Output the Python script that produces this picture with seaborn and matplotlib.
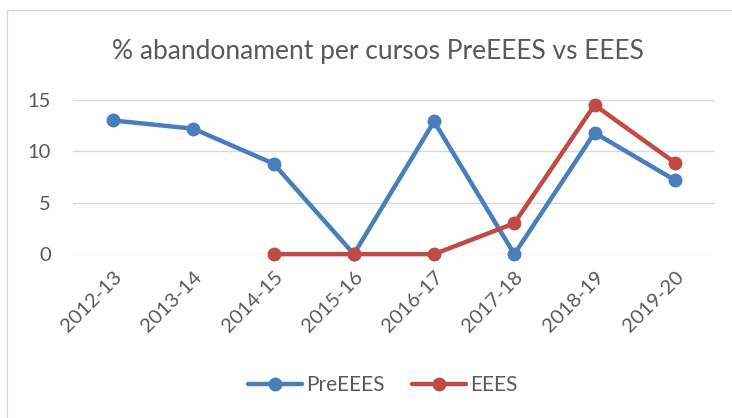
import numpy as np
import pandas as pd
import matplotlib
matplotlib.use("Agg")
import matplotlib.pyplot as plt
import seaborn as sns
from matplotlib.lines import Line2D
from matplotlib.patches import Rectangle

# course years and dropout %
cursos = ["2012-13", "2013-14", "2014-15", "2015-16", "2016-17", "2017-18", "2018-19", "2019-20"]
pre_eees = [13.0, 12.2, 8.8, 0.0, 12.9, 0.0, 11.8, 7.2]
eees = [np.nan, np.nan, 0.0, 0.0, 0.0, 3.0, 14.5, 8.9]

df = pd.DataFrame({
    "curs": cursos * 2,
    "pct": pre_eees + eees,
    "serie": ["PreEEES"] * len(cursos) + ["EEES"] * len(cursos),
})
df["x"] = df["curs"].map({c: i for i, c in enumerate(cursos)})

blue = "#4A7EBB"
red = "#BE4B48"
grey = "#595959"

sns.set_style("white")
plt.rcParams["font.family"] = ["Lato", "DejaVu Sans"]

fig = plt.figure(figsize=(7.32, 4.18), dpi=100)
ax = fig.add_axes([0.0997, 0.392, 0.877, 0.369])

sns.lineplot(data=df.dropna(), x="x", y="pct", hue="serie", units="serie", estimator=None,
             palette={"PreEEES": blue, "EEES": red}, hue_order=["PreEEES", "EEES"],
             marker="o", markersize=10, markeredgewidth=0, linewidth=3.2,
             legend=False, ax=ax, sort=False)

ax.set_xlim(-0.5, len(cursos) - 0.5)
ax.set_ylim(0, 15)
ax.set_yticks([0, 5, 10, 15])
ax.set_xticks(range(len(cursos)))
ax.set_xticklabels(cursos, rotation=45, ha="right", rotation_mode="anchor")
ax.tick_params(axis="both", length=0, labelsize=14.5, labelcolor=grey)
ax.tick_params(axis="y", pad=16)
ax.tick_params(axis="x", pad=10)
ax.set_xlabel("")
ax.set_ylabel("")
ax.grid(axis="y", color="#D9D9D9", linewidth=1)
ax.set_axisbelow(True)
for s in ax.spines.values():
    s.set_visible(False)
for p in ax.get_lines():
    p.set_clip_on(False)

fig.text(0.516, 0.877, "% abandonament per cursos PreEEES vs EEES",
         ha="center", va="center", fontsize=19, color=grey)

handles = [
    Line2D([], [], color=blue, marker="o", markersize=10, linewidth=3.2, markeredgewidth=0),
    Line2D([], [], color=red, marker="o", markersize=10, linewidth=3.2, markeredgewidth=0),
]
fig.legend(handles, ["PreEEES", "EEES"], loc="center", bbox_to_anchor=(0.523, 0.078),
           ncol=2, frameon=False, fontsize=15, labelcolor=grey,
           handlelength=2.6, columnspacing=1.3, handletextpad=0.2)

fig.patches.append(Rectangle((0.009, -0.1), 1.2, 1.076, transform=fig.transFigure,
                             fill=False, edgecolor="#D9D9D9", linewidth=1))

fig.savefig("out.png", dpi=100)
